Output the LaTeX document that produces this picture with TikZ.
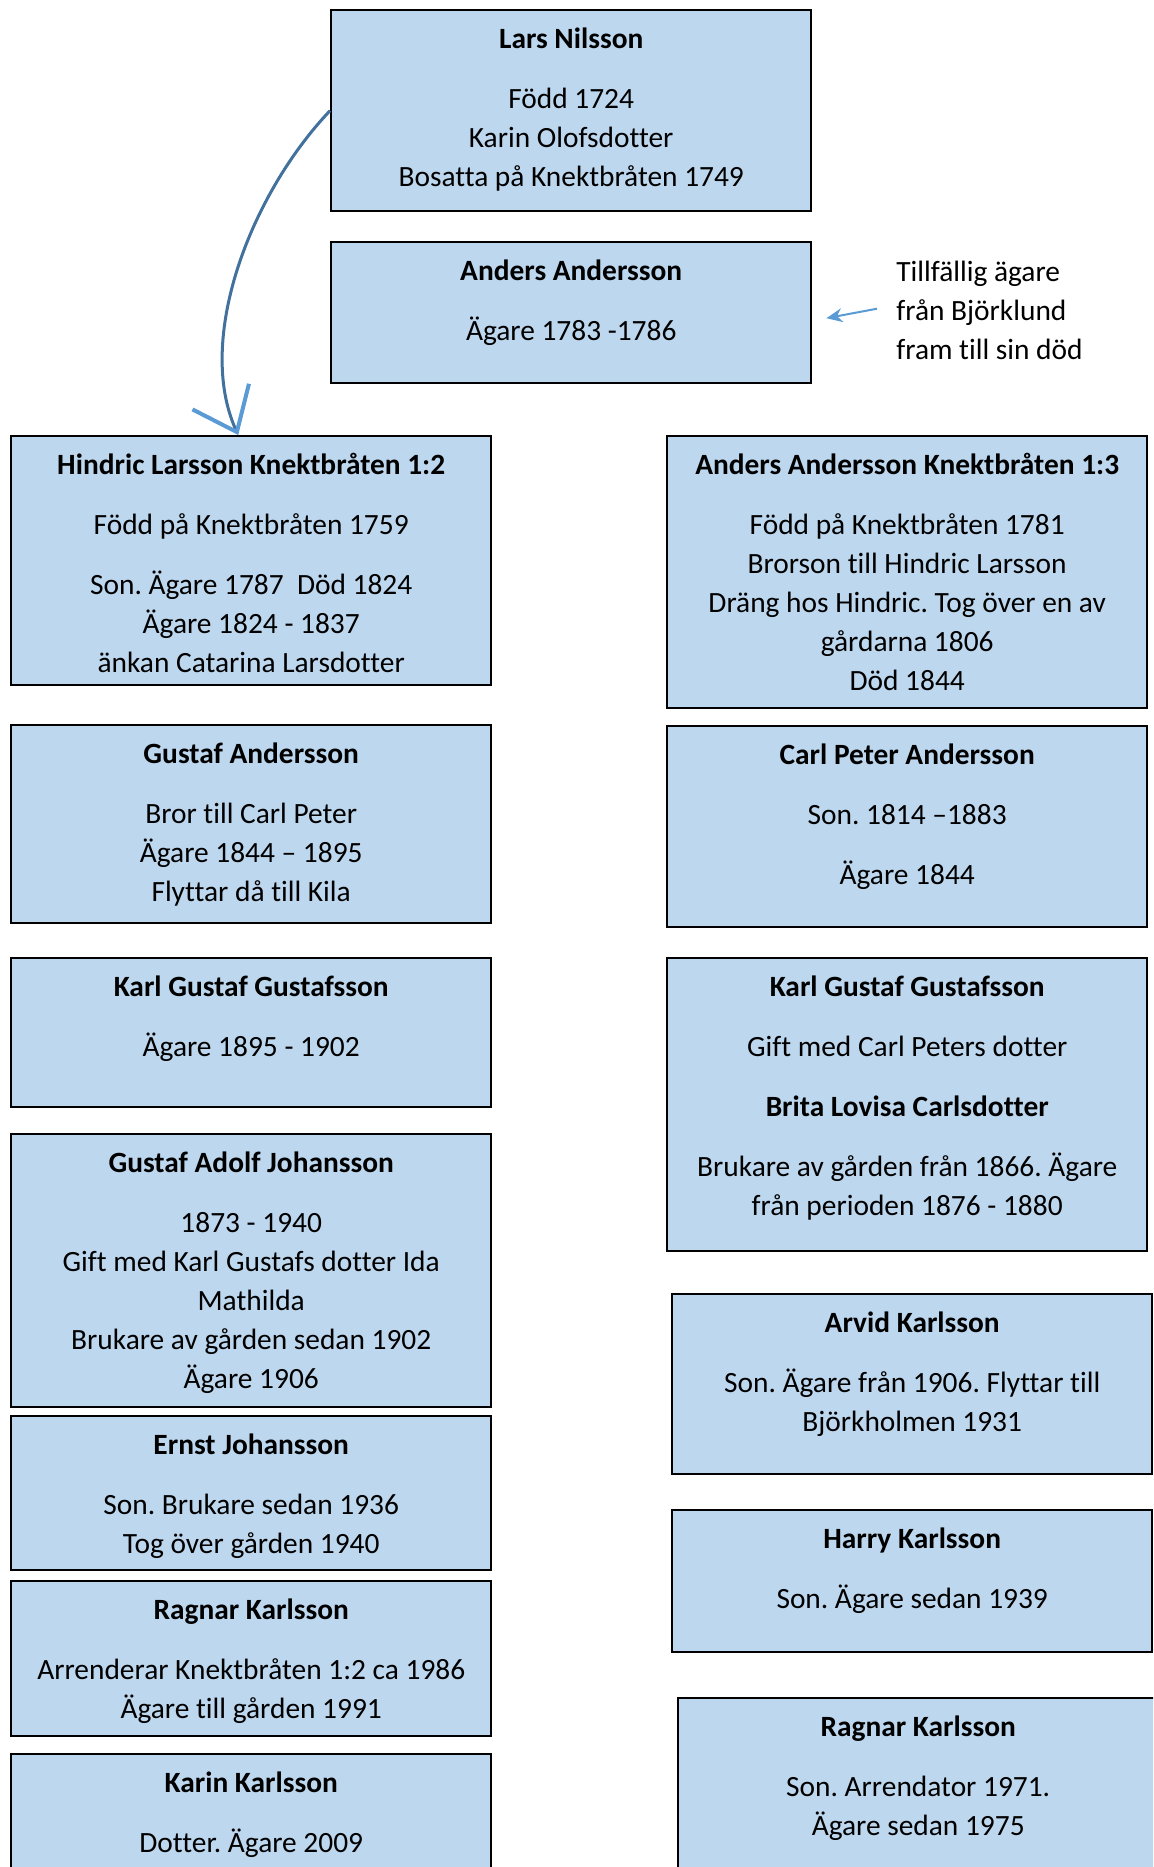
\documentclass[tikz,border=0pt]{standalone}
\usepackage{fontspec}
\setmainfont{Carlito}[Ligatures=NoCommon]
\usepackage{tikz}
\usetikzlibrary{arrows.meta}
\frenchspacing

\definecolor{boxblue}{HTML}{BDD7EE}
\definecolor{darkblue}{HTML}{41719C}
\definecolor{lightblue}{HTML}{5B9BD5}

\begin{document}
\begin{tikzpicture}[x=0.5pt,y=-0.5pt]
            \tikzstyle{box}=[rectangle,draw=black,line width=1.2pt,fill=boxblue,anchor=north west,minimum width=240pt,inner sep=0pt]
            \tikzstyle{txt}=[anchor=north,inner sep=0pt,align=center,font=\fontsize{14.7pt}{19.5pt}\selectfont]
            \tikzstyle{note}=[anchor=north west,inner sep=0pt,align=left,font=\fontsize{14.7pt}{19.5pt}\selectfont]

            \tikzstyle{curve}=[line width=1.5pt,color=darkblue]   % Lars -> Hindric
            \tikzstyle{pointer}=[line width=1pt,color=lightblue]  % note -> Anders

            \useasboundingbox (0,0) rectangle (1153,1867);
            \clip (0,0) rectangle (1153,1867);

            % top
            \node[box,minimum height=100.5pt] (0) at (330,9) {};
            \node[box,minimum height=70.5pt]  (1) at (330,241) {};

            % left column
            \node[box,minimum height=124.5pt] (l1) at (10,435) {};
            \node[box,minimum height=99pt]    (l2) at (10,724) {};
            \node[box,minimum height=74.5pt]  (l3) at (10,957) {};
            \node[box,minimum height=136.5pt] (l4) at (10,1133) {};
            \node[box,minimum height=77pt]    (l5) at (10,1415) {};
            \node[box,minimum height=77.5pt]  (l6) at (10,1580) {};
            \node[box,minimum height=75pt]    (l7) at (10,1753) {};

            % right column
            \node[box,minimum height=136pt]   (r1) at (666,435) {};
            \node[box,minimum height=100.5pt] (r2) at (666,725) {};
            \node[box,minimum height=146.5pt] (r3) at (666,957) {};
            \node[box,minimum height=90pt]    (r4) at (671,1293) {};
            \node[box,minimum height=71pt]    (r5) at (671,1509) {};
            \node[box,minimum height=100pt]   (r6) at (677,1697) {};

            % texts
            \node[txt] (0t) at ([yshift=-9pt]0.north) {\textbf{Lars Nilsson}\\[10.5pt] Född 1724\\ Karin Olofsdotter\\ Bosatta på Knektbråten 1749};
            \node[txt] (1t) at ([yshift=-9pt]1.north) {\textbf{Anders Andersson}\\[10.5pt] Ägare 1783 -1786};

            \node[txt] (l1t) at ([yshift=-9pt]l1.north) {\textbf{Hindric Larsson Knektbråten 1:2}\\[10.5pt] Född på Knektbråten 1759\\[10.5pt] Son. Ägare 1787~~Död 1824\\ Ägare 1824 - 1837\\ änkan Catarina Larsdotter};
            \node[txt] (l2t) at ([yshift=-9pt]l2.north) {\textbf{Gustaf Andersson}\\[10.5pt] Bror till Carl Peter\\ Ägare 1844 – 1895\\ Flyttar då till Kila};
            \node[txt] (l3t) at ([yshift=-9pt]l3.north) {\textbf{Karl Gustaf Gustafsson}\\[10.5pt] Ägare 1895 - 1902};
            \node[txt] (l4t) at ([yshift=-9pt]l4.north) {\textbf{Gustaf Adolf Johansson}\\[10.5pt] 1873 - 1940\\ Gift med Karl Gustafs dotter Ida\\ Mathilda\\ Brukare av gården sedan 1902\\ Ägare 1906};
            \node[txt] (l5t) at ([yshift=-9pt]l5.north) {\textbf{Ernst Johansson}\\[10.5pt] Son. Brukare sedan 1936\\ Tog över gården 1940};
            \node[txt] (l6t) at ([yshift=-9pt]l6.north) {\textbf{Ragnar Karlsson}\\[10.5pt] Arrenderar Knektbråten 1:2 ca 1986\\ Ägare till gården 1991};
            \node[txt] (l7t) at ([yshift=-9pt]l7.north) {\textbf{Karin Karlsson}\\[10.5pt] Dotter. Ägare 2009};

            \node[txt] (r1t) at ([yshift=-9pt]r1.north) {\textbf{Anders Andersson Knektbråten 1:3}\\[10.5pt] Född på Knektbråten 1781\\ Brorson till Hindric Larsson\\ Dräng hos Hindric. Tog över en av\\ gårdarna 1806\\ Död 1844};
            \node[txt] (r2t) at ([yshift=-9pt]r2.north) {\textbf{Carl Peter Andersson}\\[10.5pt] Son. 1814 –1883\\[10.5pt] Ägare 1844};
            \node[txt] (r3t) at ([yshift=-9pt]r3.north) {\textbf{Karl Gustaf Gustafsson}\\[10.5pt] Gift med Carl Peters dotter\\[10.5pt] \textbf{Brita Lovisa Carlsdotter}\\[10.5pt] Brukare av gården från 1866. Ägare\\ från perioden 1876 - 1880};
            \node[txt] (r4t) at ([yshift=-9pt]r4.north) {\textbf{Arvid Karlsson}\\[10.5pt] Son. Ägare från 1906. Flyttar till\\ Björkholmen 1931};
            \node[txt] (r5t) at ([yshift=-9pt]r5.north) {\textbf{Harry Karlsson}\\[10.5pt] Son. Ägare sedan 1939};
            \node[txt] (r6t) at ([yshift=-9pt]r6.north) {\textbf{Ragnar Karlsson}\\[10.5pt] Son. Arrendator 1971.\\ Ägare sedan 1975};

            \node[note] (tmp) at (896,261) {Tillfällig ägare\\ från Björklund\\ fram till sin död};

            \draw[curve,-{Straight Barb[length=19.5pt,width=31pt,line width=2pt,color=lightblue]}]
                (0.west) .. controls (250,195) and (195,340) .. ([xshift=-6.5pt]l1.north);
            \draw[pointer,-{Stealth[length=8pt,width=7pt]}]
                ([xshift=-9.5pt,yshift=1pt]tmp.west) -- ([xshift=7pt,yshift=-2.75pt]1.east);
        \end{tikzpicture}
\end{document}
